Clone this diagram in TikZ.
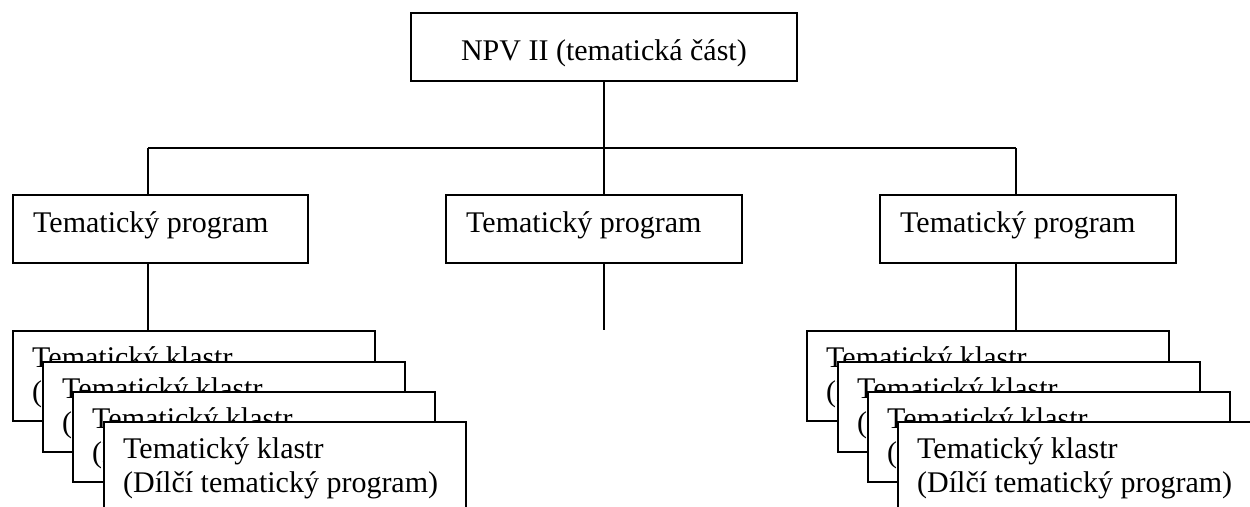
\documentclass[tikz,border=0pt]{standalone}
\usepackage{fontspec}
\setmainfont{Liberation Serif}
\begin{document}
\begin{tikzpicture}[x=1pt,y=-1pt,
  box/.style={draw, line width=1.8pt, fill=white, rectangle, inner sep=0pt, anchor=north west},
  link/.style={line width=1.3pt},
  lbl/.style={inner sep=0pt, anchor=base west, font=\fontsize{30}{34}\selectfont}]
\useasboundingbox (0,0) rectangle (1250,506);
\clip (0,0) rectangle (1250,506);

% top level
\node[box, minimum width=386, minimum height=68] (npv) at (410,12) {};
\node[lbl, anchor=base] (npvt) at ([shift={(0,48)}]npv.north) {NPV II (tematická část)};

% thematic programmes
\node[box, minimum width=295, minimum height=68] (tp1) at (12,194) {};
\node[lbl] (tp1t) at ([shift={(21,38)}]tp1.north west) {Tematický program};
\node[box, minimum width=296, minimum height=68] (tp2) at (445,194) {};
\node[lbl] (tp2t) at ([shift={(21,38)}]tp2.north west) {Tematický program};
\node[box, minimum width=296, minimum height=68] (tp3) at (879,194) {};
\node[lbl] (tp3t) at ([shift={(21,38)}]tp3.north west) {Tematický program};

% connectors
\coordinate (hubL) at (148,148);
\coordinate (hubM) at (604,148);
\coordinate (hubR) at (1016,148);
\coordinate (tp2end) at (604,330);
\draw[link] (npv.south -| hubM) -- (hubM);
\draw[link] (hubL) -- (hubR);
\draw[link] (hubL) -- (hubL |- tp1.north);
\draw[link] (hubM) -- (hubM |- tp2.north);
\draw[link] (hubR) -- (hubR |- tp3.north);
\draw[link] (hubM |- tp2.south) -- (tp2end);

% stacked clusters
\foreach \i/\x/\y in {1/12/330, 2/42/361, 3/72/391, 4/103/421}{
  \node[box, minimum width=362, minimum height=90] (kl\i) at (\x,\y) {};
  \node[lbl] (kl\i t) at ([shift={(20,37)}]kl\i.north west)
    {\begin{tabular}[t]{@{}l@{}}Tematický klastr\\(Dílčí tematický program)\end{tabular}};
}
\foreach \i/\x/\y in {1/806/330, 2/837/361, 3/867/391, 4/897/421}{
  \node[box, minimum width=362, minimum height=90] (kr\i) at (\x,\y) {};
  \node[lbl] (kr\i t) at ([shift={(20,37)}]kr\i.north west)
    {\begin{tabular}[t]{@{}l@{}}Tematický klastr\\(Dílčí tematický program)\end{tabular}};
}
\draw[link] (hubL |- tp1.south) -- (hubL |- kl1.north);
\draw[link] (hubR |- tp3.south) -- (hubR |- kr1.north);
\end{tikzpicture}
\end{document}
